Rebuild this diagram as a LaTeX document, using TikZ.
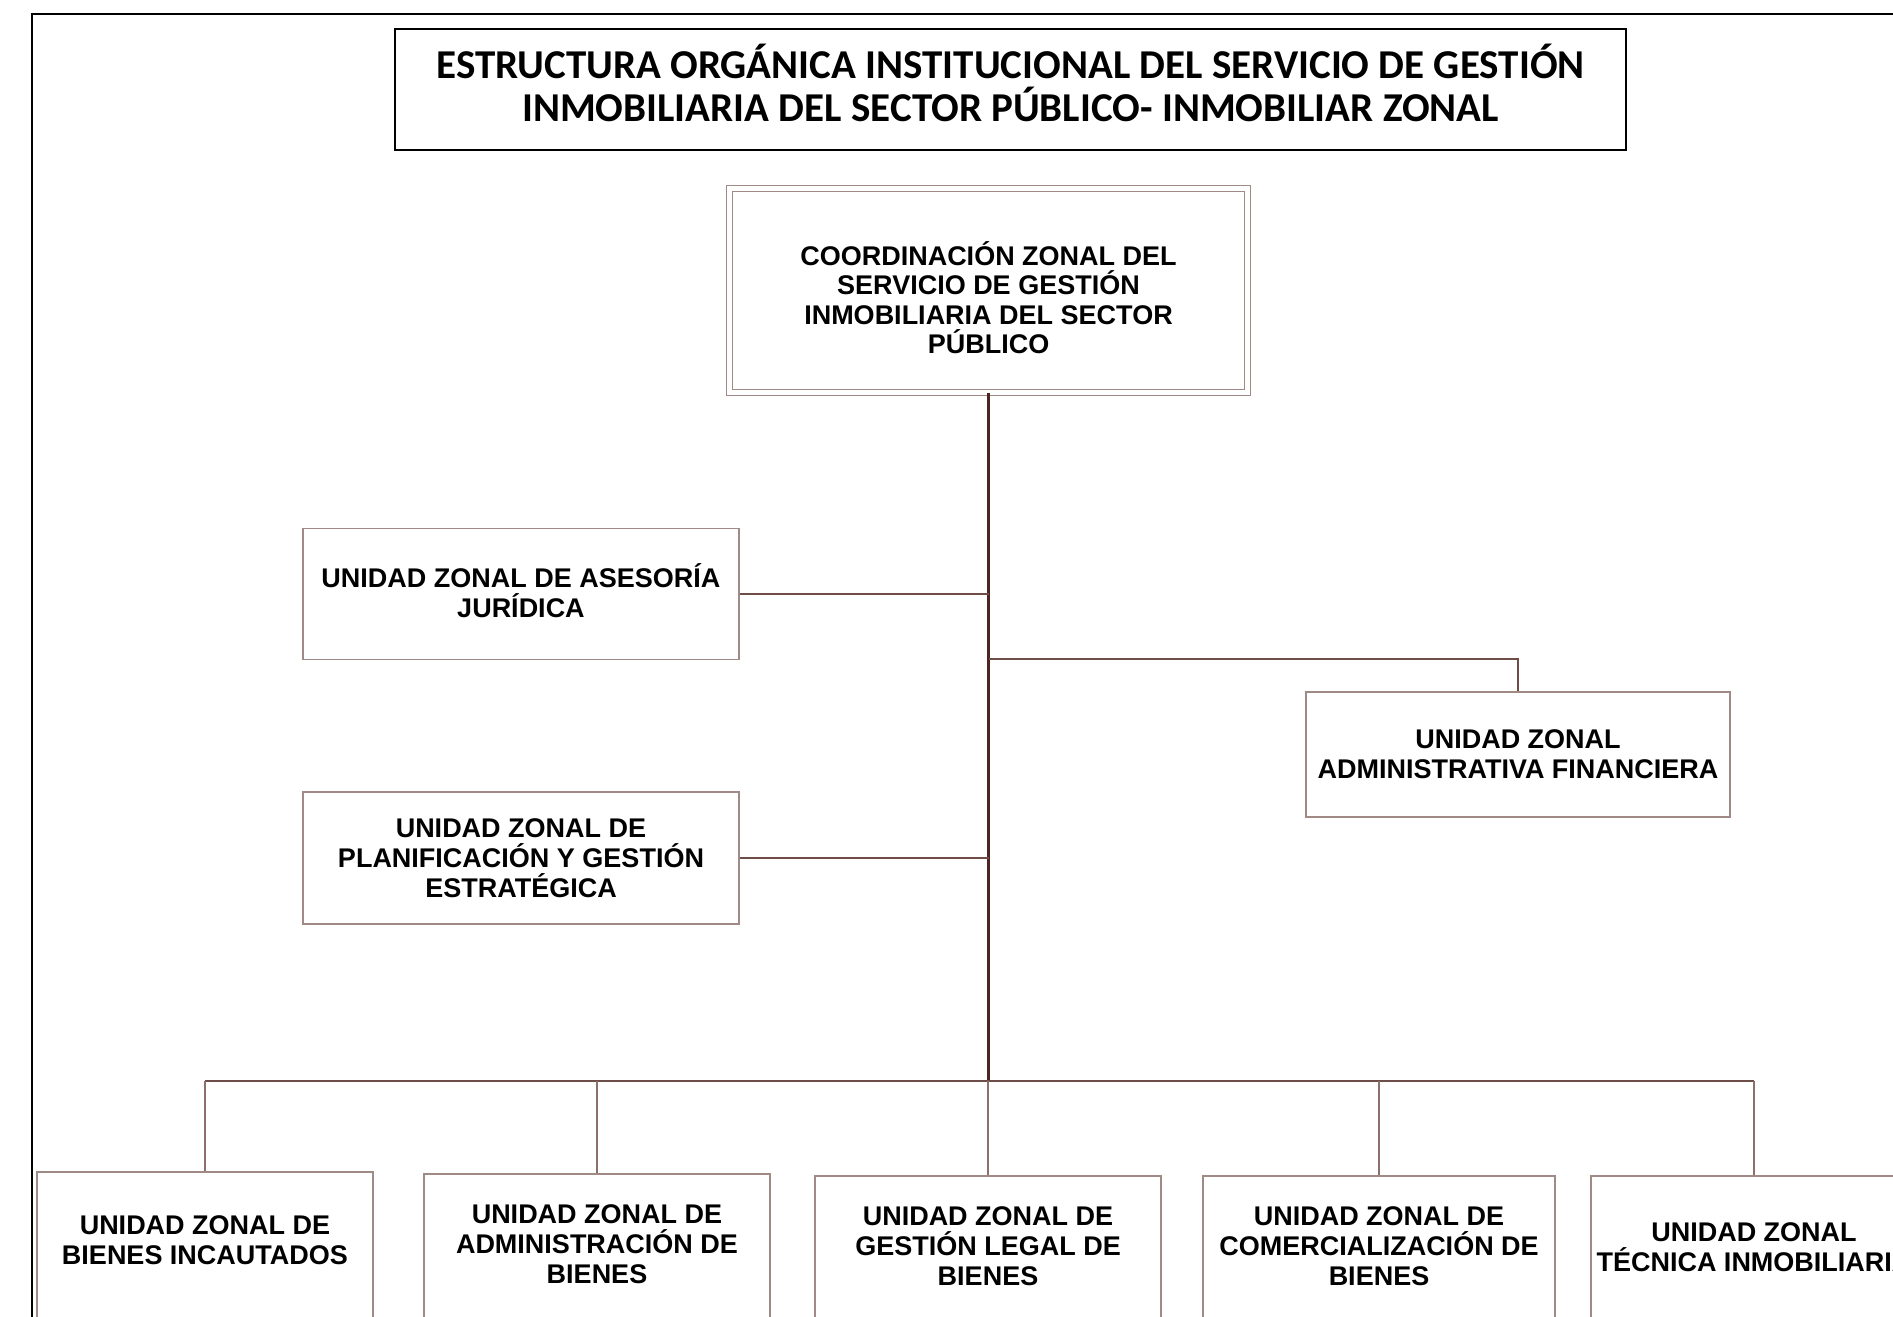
\documentclass[tikz,border=0pt]{standalone}
\usepackage{fontspec}
\setmainfont{Liberation Sans}
\newfontfamily\titlefont{Carlito}
\usetikzlibrary{positioning}

\definecolor{box edge}{HTML}{A08A86}
\definecolor{trunk line}{HTML}{4B2522}
\definecolor{branch line}{HTML}{6E4D49}
\definecolor{drop line}{HTML}{8C706C}
\newcommand\lowerpad[1]{\rule[-#1]{0pt}{0pt}}
\tikzset{unitbox/.style={draw=box edge, line width=1.2pt, align=center, inner sep=0pt,
      font=\fontsize{27}{30}\selectfont\bfseries},
    headbox/.style={unitbox, double=white, double distance=5pt},
    lowbox/.style={unitbox, minimum height=150pt, execute at end node={\lowerpad{#1}}},
    lowbox/.default=9pt,
    trunk/.style={draw=trunk line, line width=3pt},
    branch/.style={draw=branch line, line width=2pt},
    drop/.style={draw=drop line, line width=2pt}}

\begin{document}
\begin{tikzpicture}[x=1pt,y=-1pt]
  \useasboundingbox (0,0) rectangle (1893,1317);
  \clip (0,0) rectangle (1893,1317);
  \draw[line width=2.5pt] (32,14) rectangle (1920,1340);
  \node[draw, line width=2.5pt, minimum width=1231pt, minimum height=121pt, align=center,
        font=\titlefont\fontsize{41}{43}\selectfont\bfseries,
        execute at end node={\lowerpad{14pt}}] (title) at (1010.5,89.5)
        {ESTRUCTURA ORGÁNICA INSTITUCIONAL DEL SERVICIO DE GESTIÓN\\INMOBILIARIA DEL SECTOR PÚBLICO- INMOBILIAR ZONAL};

  \node[headbox, minimum width=518pt, minimum height=204pt,
        font=\fontsize{27}{29.4}\selectfont\bfseries] (coord) at (988.5,290.5)
        {\rule{0pt}{38pt}COORDINACIÓN ZONAL DEL\\SERVICIO DE GESTIÓN\\INMOBILIARIA DEL SECTOR\\PÚBLICO};
  \node[unitbox, minimum width=436pt, minimum height=131pt,
        execute at end node={\lowerpad{6pt}}] (asesoria) at (521,594)
        {UNIDAD ZONAL DE ASESORÍA\\JURÍDICA};
  \node[unitbox, minimum width=436pt, minimum height=132pt] (planif) at (521,858)
        {UNIDAD ZONAL DE\\PLANIFICACIÓN Y GESTIÓN\\ESTRATÉGICA};
  \node[unitbox, minimum width=424pt, minimum height=125pt] (financiera) at (1518,754.5)
        {UNIDAD ZONAL\\ADMINISTRATIVA FINANCIERA};

  \node[lowbox=14pt, minimum width=336pt] (bienes) at (205,1247)
        {UNIDAD ZONAL DE\\BIENES INCAUTADOS};
  \node[lowbox, minimum width=346pt] (admin) at (597,1249)
        {UNIDAD ZONAL DE\\ADMINISTRACIÓN DE\\BIENES};
  \node[lowbox, minimum width=346pt] (legal) at (988,1251)
        {UNIDAD ZONAL DE\\GESTIÓN LEGAL DE\\BIENES};
  \node[lowbox, minimum width=352pt] (comercial) at (1379,1251)
        {UNIDAD ZONAL DE\\COMERCIALIZACIÓN DE\\BIENES};
  \node[lowbox=7pt, minimum width=326pt] (tecnica) at (1754,1251)
        {UNIDAD ZONAL\\TÉCNICA INMOBILIARIA};

  \coordinate (fork) at (coord.south |- 0,659);
  \coordinate (bus) at (coord.south |- 0,1081);
  \draw[trunk] (coord.south) -- (bus);
  \draw[branch] (asesoria.east) -- (asesoria.east -| coord.south);
  \draw[branch] (planif.east) -- (planif.east -| coord.south);
  \draw[branch] (fork) -| (financiera.north);
  \draw[branch] (bienes.north |- bus) -- (tecnica.north |- bus);
  \foreach \unit in {bienes,admin,legal,comercial,tecnica}
    \draw[drop] (\unit.north) -- (\unit.north |- bus);
\end{tikzpicture}
\end{document}
